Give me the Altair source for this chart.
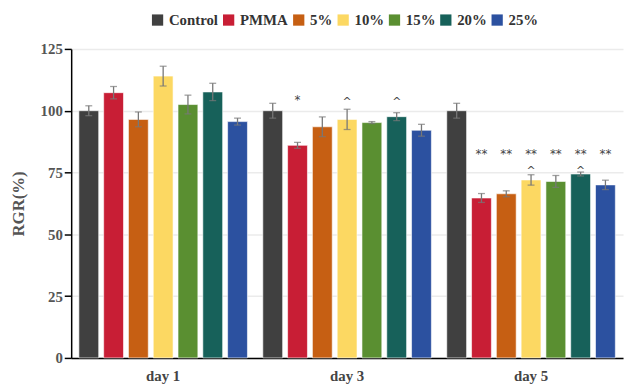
import altair as alt
import pandas as pd

days = ["day 1", "day 3", "day 5"]
groups = ["Control", "PMMA", "5%", "10%", "15%", "20%", "25%"]
colors = ["#404040", "#c81e35", "#c65f13", "#fcd862", "#5a8f31", "#17615a", "#2c51a0"]

day1 = [100.0, 107.3, 96.5, 114.0, 102.5, 107.6, 95.6]
day1_err = [2.0, 2.5, 3.0, 4.0, 3.8, 3.5, 1.4]
day3 = [100.0, 86.0, 93.5, 96.5, 95.2, 97.6, 92.1]
day3_err = [3.0, 1.2, 4.0, 4.1, 0.4, 1.6, 2.4]
day5 = [100.0, 64.7, 66.4, 72.0, 71.4, 74.4, 70.0]
day5_err = [3.0, 1.8, 1.2, 2.1, 2.4, 0.8, 1.9]

# significance marks
star_day = ["day 3", "day 5", "day 5", "day 5", "day 5", "day 5", "day 5"]
star_group = ["PMMA", "PMMA", "5%", "10%", "15%", "20%", "25%"]
star_text = ["*", "**", "**", "**", "**", "**", "**"]
star_y = [104.4, 82.5, 82.5, 82.5, 82.5, 82.5, 82.5]

caret_day = ["day 3", "day 3", "day 5", "day 5"]
caret_group = ["10%", "20%", "10%", "20%"]
caret_text = ["^", "^", "^", "^"]
caret_y = [105.8, 105.8, 78.0, 78.0]

rows = []
for d, vals, errs in zip(days, [day1, day3, day5], [day1_err, day3_err, day5_err]):
    for g, v, e in zip(groups, vals, errs):
        rows.append({"day": d, "group": g, "value": v, "lo": v - e, "hi": v + e})
df = pd.DataFrame(rows)
stars = pd.DataFrame({"day": star_day, "group": star_group, "text": star_text, "y": star_y})
carets = pd.DataFrame({"day": caret_day, "group": caret_group, "text": caret_text, "y": caret_y})

FONT = "Liberation Serif"

x_enc = alt.X("day:N", scale=alt.Scale(domain=days, paddingInner=0, paddingOuter=0),
              axis=alt.Axis(title=None, labelAngle=0, ticks=False, labelPadding=11,
                            labelFont=FONT, labelFontSize=15, labelFontWeight="bold",
                            labelColor="#444", domainColor="#000", domainWidth=1.5,
                            grid=False))
xo_enc = alt.XOffset("group:N", scale=alt.Scale(domain=groups, paddingInner=0.2, paddingOuter=0.31))
y_scale = alt.Scale(domain=[0, 125], nice=False)

bars = alt.Chart(df).mark_bar(stroke="white", strokeWidth=1, strokeOpacity=0.6).encode(
    x=x_enc,
    xOffset=xo_enc,
    y=alt.Y("value:Q", scale=y_scale,
            axis=alt.Axis(title="RGR(%)", values=[0, 25, 50, 75, 100, 125],
                          labelFont=FONT, labelFontSize=15, labelFontWeight="bold",
                          labelColor="#555", titleFont=FONT, titleFontSize=17,
                          titleFontWeight="bold", titleColor="#555", titlePadding=13,
                          domainColor="#000", domainWidth=1.5, tickColor="#000",
                          tickSize=7, tickWidth=1.5, labelPadding=2,
                          gridColor="#ebebeb", gridWidth=1.5)),
    color=alt.Color("group:N", scale=alt.Scale(domain=groups, range=colors),
                    legend=alt.Legend(title=None, orient="none", direction="horizontal",
                                      legendX=80, legendY=-37, symbolType="square",
                                      symbolSize=130, symbolStrokeWidth=0,
                                      labelFont=FONT, labelFontSize=15,
                                      labelFontWeight="bold", labelColor="#333",
                                      columnPadding=3, labelOffset=4)),
)

err_rule = alt.Chart(df).mark_rule(color="#777", strokeWidth=1.3).encode(
    x=x_enc, xOffset=xo_enc, y=alt.Y("lo:Q", scale=y_scale), y2="hi:Q")
cap_lo = alt.Chart(df).mark_tick(color="#777", size=7, thickness=1.3).encode(
    x=x_enc, xOffset=xo_enc, y=alt.Y("lo:Q", scale=y_scale))
cap_hi = alt.Chart(df).mark_tick(color="#777", size=7, thickness=1.3).encode(
    x=x_enc, xOffset=xo_enc, y=alt.Y("hi:Q", scale=y_scale))

star_text_layer = alt.Chart(stars).mark_text(fontSize=12, color="#444", font="DejaVu Sans",
                                             baseline="middle").encode(
    x=x_enc, xOffset=xo_enc, y=alt.Y("y:Q", scale=y_scale), text="text:N")
caret_text_layer = alt.Chart(carets).mark_text(fontSize=11, color="#444", font="DejaVu Sans",
                                               baseline="top").encode(
    x=x_enc, xOffset=xo_enc, y=alt.Y("y:Q", scale=y_scale), text="text:N")

chart = alt.layer(bars, err_rule, cap_lo, cap_hi, star_text_layer, caret_text_layer).properties(
    width=559, height=313,
    autosize=alt.AutoSizeParams(type="none"),
    padding={"left": 64, "top": 39, "right": 2, "bottom": 27},
).configure_view(stroke=None)

chart.save("out.html", embed_options={"renderer": "svg", "actions": False})
